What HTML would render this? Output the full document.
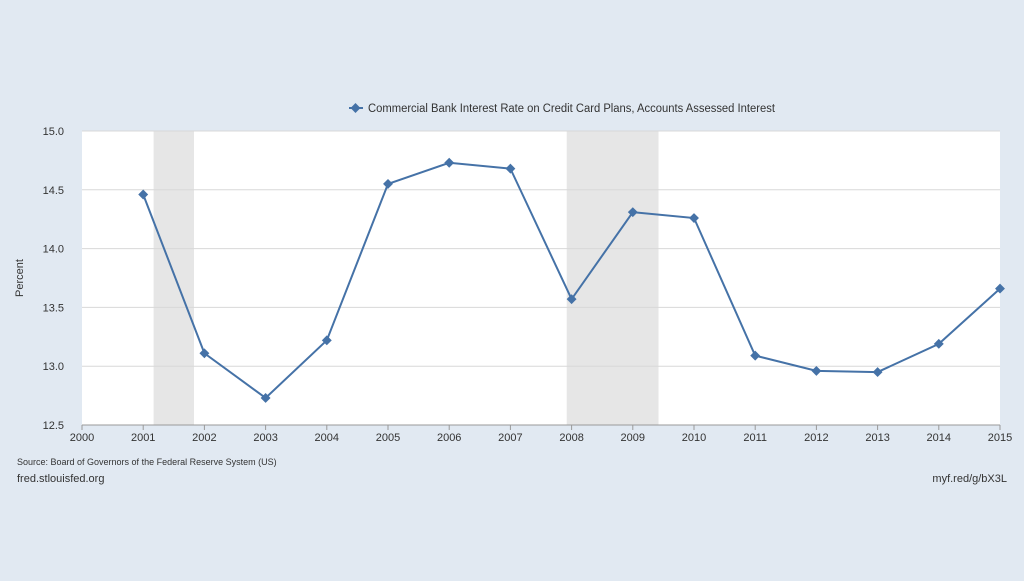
<!DOCTYPE html>
<html><head><meta charset="utf-8"><style>
body{margin:0;background:#e1e9f2;width:1024px;height:576px;overflow:hidden;font-family:"Liberation Sans",sans-serif}
svg text{font-family:"Liberation Sans",sans-serif}
</style></head><body>
<svg id="c" width="1024" height="576">
<rect width="1024" height="576" fill="#e1e9f2"/>
<rect x="82" y="131" width="918" height="294" fill="#fff"/>
<g id="rec"></g><g id="grid"></g><g id="ax"></g><g id="ser"></g>
<g>
<line x1="349" y1="108" x2="363" y2="108" stroke="#4572a7" stroke-width="2"/>
<rect x="352" y="104.5" width="7" height="7" fill="#4572a7" transform="rotate(45 355.5 108)"/>
<text x="368" y="112" font-size="11.5" fill="#333" textLength="407" lengthAdjust="spacingAndGlyphs">Commercial Bank Interest Rate on Credit Card Plans, Accounts Assessed Interest</text>
</g>
<text transform="translate(23 278) rotate(-90)" text-anchor="middle" font-size="11" fill="#333">Percent</text>
<text x="17" y="465" font-size="9" fill="#333">Source: Board of Governors of the Federal Reserve System (US)</text>
<text x="17" y="482" font-size="11" fill="#333">fred.stlouisfed.org</text>
<text x="1007" y="482" text-anchor="end" font-size="11" fill="#333">myf.red/g/bX3L</text>
</svg>
<script>
const years=[2001,2002,2003,2004,2005,2006,2007,2008,2009,2010,2011,2012,2013,2014,2015];
const values=[14.46,13.11,12.73,13.22,14.55,14.73,14.68,13.57,14.31,14.26,13.09,12.96,12.95,13.19,13.66];
const yTicks=[12.5,13.0,13.5,14.0,14.5,15.0];
const xTicks=[2000,2001,2002,2003,2004,2005,2006,2007,2008,2009,2010,2011,2012,2013,2014,2015];
const recStart=[2001.17,2007.92];
const recEnd=[2001.83,2009.42];
const NS='http://www.w3.org/2000/svg';
const x=v=>82+(v-2000)*(918/15);
const y=v=>425-(v-12.5)*(294/2.5);
function mk(t,a,p){const e=document.createElementNS(NS,t);for(const k in a)e.setAttribute(k,a[k]);p.appendChild(e);return e;}
const rec=document.getElementById('rec'),grid=document.getElementById('grid'),ax=document.getElementById('ax'),ser=document.getElementById('ser');
recStart.forEach((s,i)=>{const r=mk('rect',{x:x(s),y:131,width:x(recEnd[i])-x(s),height:294,fill:'#e6e6e6'},rec);

});
yTicks.forEach(t=>{const l=mk('line',{x1:82,x2:1000,y1:y(t),y2:y(t),stroke:'#d8d8d8'},grid);


const tx=mk('text',{x:64,y:y(t)+4,'text-anchor':'end','font-size':11,fill:'#333'},ax);tx.textContent=t.toFixed(1);

});
xTicks.forEach(t=>{mk('line',{x1:x(t),x2:x(t),y1:425,y2:430,stroke:'#999'},ax);
const tx=mk('text',{x:x(t),y:441,'text-anchor':'middle','font-size':11,fill:'#333'},ax);tx.textContent=t;

});
mk('line',{x1:82,x2:1000,y1:425,y2:425,stroke:'#999'},ax);
const p=mk('polyline',{points:years.map((yr,i)=>x(yr)+','+y(values[i])).join(' '),fill:'none',stroke:'#4572a7','stroke-width':2},ser);


years.forEach((yr,i)=>{const cx=x(yr),cy=y(values[i]);
const m=mk('rect',{x:cx-3.5,y:cy-3.5,width:7,height:7,fill:'#4572a7',transform:`rotate(45 ${cx} ${cy})`},ser);

});
</script>
</body></html>
